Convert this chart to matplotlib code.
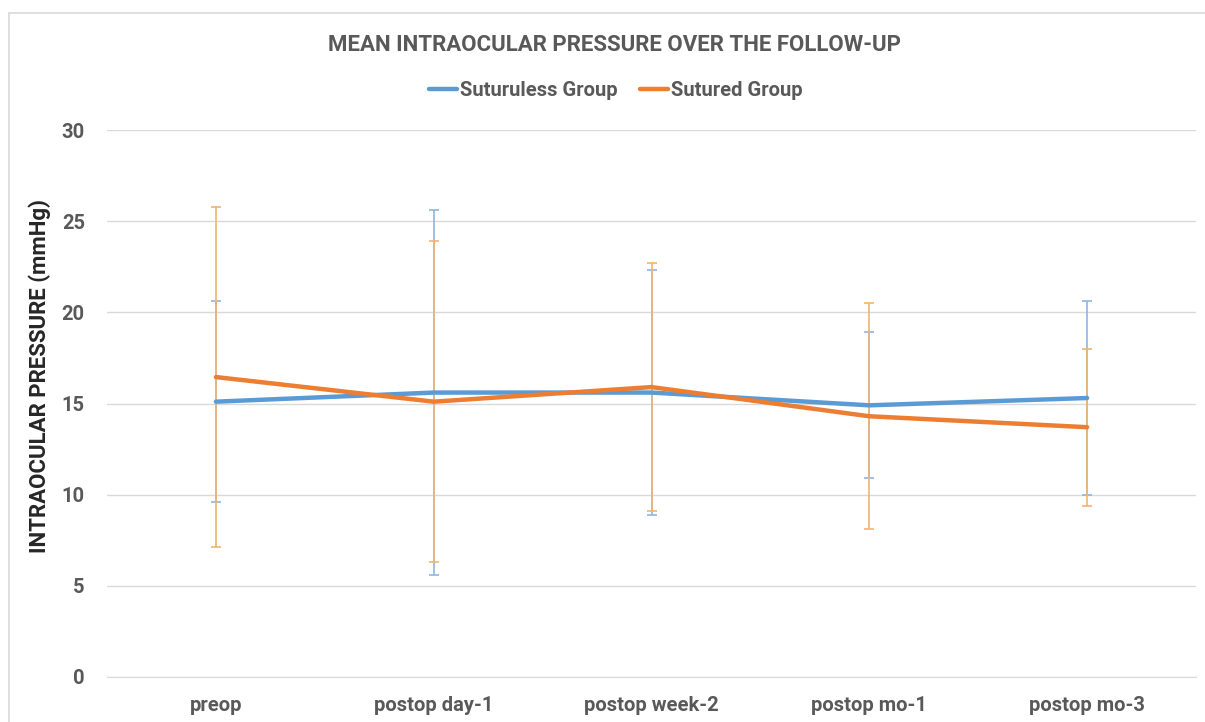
import matplotlib.pyplot as plt
from matplotlib.patches import Rectangle

plt.rcParams['font.family'] = ['Roboto', 'DejaVu Sans']

visits = ['preop', 'postop day-1', 'postop week-2', 'postop mo-1', 'postop mo-3']
sutureless_mean = [15.1, 15.6, 15.6, 14.9, 15.3]
sutureless_sd = [5.5, 10.0, 6.7, 4.0, 5.3]
sutured_mean = [16.45, 15.1, 15.9, 14.3, 13.7]
sutured_sd = [9.3, 8.8, 6.8, 6.2, 4.3]

blue = '#5b9bd5'
orange = '#ed7d31'
grey = '#595959'

fig = plt.figure(figsize=(12.05, 7.22), dpi=100)
ax = fig.add_axes([107 / 1205, 1 - 677 / 722, (1196 - 107) / 1205, (677 - 130) / 722])

x = list(range(len(visits)))

# error bars first, so the mean lines sit on top
ax.errorbar(x, sutureless_mean, yerr=sutureless_sd, fmt='none', ecolor='#8db6e3',
            elinewidth=1.2, capsize=3.5, capthick=1.2, zorder=2)
ax.errorbar(x, sutured_mean, yerr=sutured_sd, fmt='none', ecolor='#f2b46e',
            elinewidth=1.2, capsize=3.5, capthick=1.2, zorder=3)
ax.plot(x, sutureless_mean, color=blue, lw=3.2, label='Suturuless Group', zorder=4,
        solid_capstyle='round')
ax.plot(x, sutured_mean, color=orange, lw=3.2, label='Sutured Group', zorder=5,
        solid_capstyle='round')

ax.set_xlim(-0.5, len(visits) - 0.5)
ax.set_ylim(0, 30)
ax.set_yticks(range(0, 31, 5))
ax.set_xticks(x)
ax.set_xticklabels(visits)
ax.tick_params(axis='both', length=0, labelsize=14.5, labelcolor=grey)
ax.tick_params(axis='x', pad=14)
ax.tick_params(axis='y', pad=16)
for lab in ax.get_xticklabels() + ax.get_yticklabels():
    lab.set_fontweight('bold')

ax.grid(axis='y', color='#d9d9d9', lw=1)
ax.set_axisbelow(True)
for side in ['top', 'right', 'left']:
    ax.spines[side].set_visible(False)
ax.spines['bottom'].set_color('#d9d9d9')

fig.text(40 / 1205, 1 - 376 / 722, 'INTRAOCULAR PRESSURE (mmHg)', rotation=90,
         ha='center', va='center', fontsize=16, fontweight='bold', color='#262626')
fig.text(614 / 1205, 1 - 45 / 722, 'MEAN INTRAOCULAR PRESSURE OVER THE FOLLOW-UP',
         ha='center', va='center', fontsize=16, fontweight='bold', color=grey)

leg = fig.legend(loc='center', bbox_to_anchor=(616 / 1205, 1 - 91 / 722), ncol=2,
                 frameon=False, handlelength=1.4, handletextpad=0.15, columnspacing=1.1,
                 prop={'size': 14.5, 'weight': 'bold'})
for t in leg.get_texts():
    t.set_color(grey)

# outer chart border
fig.add_artist(Rectangle((9 / 1205, -0.1), 1.2, 0.1 + 1 - 13 / 722, transform=fig.transFigure,
                         fill=False, edgecolor='#d9d9d9', lw=1.2))

fig.savefig('out.png', dpi=100, facecolor='white')
